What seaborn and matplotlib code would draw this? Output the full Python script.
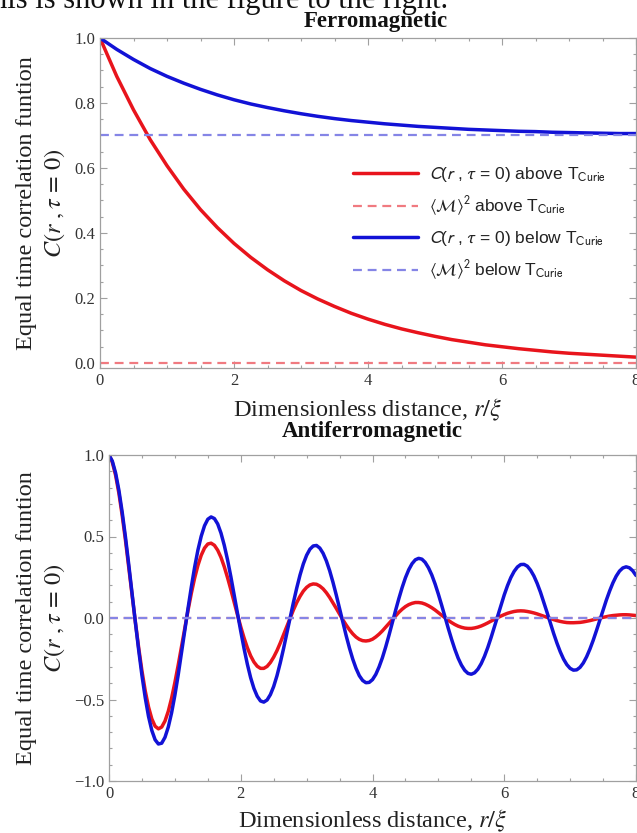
import matplotlib
matplotlib.use("Agg")
import matplotlib.pyplot as plt
import seaborn as sns
import pandas as pd
from matplotlib.ticker import MultipleLocator

# ---------------- data ----------------
r_top = [0, 0.25, 0.5, 0.75, 1, 1.25, 1.5, 1.75, 2, 2.25, 2.5, 2.75, 3, 3.25, 3.5, 3.75,
         4, 4.25, 4.5, 4.75, 5, 5.25, 5.5, 5.75, 6, 6.25, 6.5, 6.75, 7, 7.25, 7.5, 7.75, 8]
ferro_above = [1.000, 0.882, 0.779, 0.687, 0.607, 0.535, 0.472, 0.417, 0.368, 0.325, 0.287,
               0.253, 0.223, 0.197, 0.174, 0.153, 0.135, 0.119, 0.105, 0.093, 0.082, 0.072,
               0.064, 0.056, 0.050, 0.044, 0.039, 0.034, 0.030, 0.027, 0.024, 0.021, 0.018]
ferro_below = [1.000, 0.965, 0.934, 0.906, 0.882, 0.861, 0.842, 0.825, 0.810, 0.797, 0.786,
               0.776, 0.767, 0.759, 0.752, 0.746, 0.741, 0.736, 0.732, 0.728, 0.725, 0.722,
               0.719, 0.717, 0.715, 0.713, 0.712, 0.710, 0.709, 0.708, 0.707, 0.706, 0.706]
ferro_M2_above = 0.0
ferro_M2_below = 0.7

r_bot = [0.0, 0.1, 0.2, 0.3, 0.4, 0.5, 0.6, 0.7, 0.8, 0.9,
         1.0, 1.1, 1.2, 1.3, 1.4, 1.5, 1.6, 1.7, 1.8, 1.9,
         2.0, 2.1, 2.2, 2.3, 2.4, 2.5, 2.6, 2.7, 2.8, 2.9,
         3.0, 3.1, 3.2, 3.3, 3.4, 3.5, 3.6, 3.7, 3.8, 3.9,
         4.0, 4.1, 4.2, 4.3, 4.4, 4.5, 4.6, 4.7, 4.8, 4.9,
         5.0, 5.1, 5.2, 5.3, 5.4, 5.5, 5.6, 5.7, 5.8, 5.9,
         6.0, 6.1, 6.2, 6.3, 6.4, 6.5, 6.6, 6.7, 6.8, 6.9,
         7.0, 7.1, 7.2, 7.3, 7.4, 7.5, 7.6, 7.7, 7.8, 7.9, 8.0]
anti_above = [1.000, 0.876, 0.630, 0.312, -0.024, -0.324, -0.546, -0.664, -0.669, -0.572,
              -0.396, -0.177, 0.048, 0.245, 0.385, 0.454, 0.446, 0.372, 0.247, 0.097,
              -0.054, -0.182, -0.270, -0.309, -0.297, -0.240, -0.153, -0.050, 0.050, 0.133,
              0.188, 0.209, 0.196, 0.155, 0.093, 0.024, -0.043, -0.097, -0.131, -0.141,
              -0.130, -0.099, -0.056, -0.009, 0.035, 0.070, 0.090, 0.095, 0.085, 0.063,
              0.033, 0.002, -0.028, -0.050, -0.062, -0.064, -0.056, -0.040, -0.019, 0.002,
              0.021, 0.035, 0.043, 0.043, 0.036, 0.025, 0.011, -0.003, -0.016, -0.025,
              -0.029, -0.028, -0.024, -0.016, -0.006, 0.004, 0.012, 0.017, 0.020, 0.019,
              0.015]
anti_below = [1.000, 0.890, 0.650, 0.327, -0.025, -0.352, -0.604, -0.747, -0.768, -0.669,
              -0.474, -0.216, 0.060, 0.312, 0.502, 0.606, 0.610, 0.521, 0.356, 0.143,
              -0.081, -0.283, -0.432, -0.509, -0.503, -0.420, -0.275, -0.094, 0.096, 0.264,
              0.385, 0.442, 0.429, 0.350, 0.219, 0.058, -0.108, -0.252, -0.354, -0.397,
              -0.378, -0.300, -0.178, -0.030, 0.119, 0.247, 0.333, 0.366, 0.341, 0.264,
              0.146, 0.007, -0.130, -0.246, -0.321, -0.345, -0.314, -0.235, -0.120, 0.013,
              0.142, 0.248, 0.313, 0.329, 0.293, 0.212, 0.097, -0.031, -0.154, -0.252,
              -0.309, -0.318, -0.276, -0.191, -0.077, 0.049, 0.166, 0.257, 0.307, 0.308,
              0.261]
r_bot_mid = [0.05, 0.15, 0.25, 0.35, 0.45, 0.55, 0.65, 0.75, 0.85, 0.95,
             1.05, 1.15, 1.25, 1.35, 1.45, 1.55, 1.65, 1.75, 1.85, 1.95,
             2.05, 2.15, 2.25, 2.35, 2.45, 2.55, 2.65, 2.75, 2.85, 2.95,
             3.05, 3.15, 3.25, 3.35, 3.45, 3.55, 3.65, 3.75, 3.85, 3.95,
             4.05, 4.15, 4.25, 4.35, 4.45, 4.55, 4.65, 4.75, 4.85, 4.95,
             5.05, 5.15, 5.25, 5.35, 5.45, 5.55, 5.65, 5.75, 5.85, 5.95,
             6.05, 6.15, 6.25, 6.35, 6.45, 6.55, 6.65, 6.75, 6.85, 6.95,
             7.05, 7.15, 7.25, 7.35, 7.45, 7.55, 7.65, 7.75, 7.85, 7.95]
anti_above_mid = [0.956, 0.766, 0.477, 0.143, -0.181, -0.447, -0.619, -0.680, -0.632, -0.492,
                  -0.290, -0.063, 0.152, 0.323, 0.429, 0.459, 0.416, 0.314, 0.174, 0.020,
                  -0.122, -0.232, -0.296, -0.309, -0.273, -0.200, -0.102, 0.001, 0.095, 0.165,
                  0.203, 0.207, 0.179, 0.126, 0.059, -0.011, -0.072, -0.117, -0.139, -0.138,
                  -0.116, -0.079, -0.033, 0.014, 0.054, 0.082, 0.095, 0.092, 0.075, 0.049,
                  0.017, -0.014, -0.040, -0.057, -0.064, -0.061, -0.049, -0.030, -0.009, 0.012,
                  0.029, 0.040, 0.044, 0.040, 0.031, 0.018, 0.004, -0.010, -0.021, -0.028,
                  -0.029, -0.027, -0.020, -0.011, -0.001, 0.008, 0.015, 0.019, 0.020, 0.017]
anti_below_mid = [0.963, 0.784, 0.496, 0.151, -0.195, -0.489, -0.690, -0.773, -0.732, -0.582,
                  -0.350, -0.078, 0.191, 0.417, 0.566, 0.620, 0.577, 0.446, 0.253, 0.030,
                  -0.187, -0.366, -0.480, -0.516, -0.470, -0.354, -0.187, 0.002, 0.184, 0.332,
                  0.422, 0.445, 0.397, 0.290, 0.141, -0.026, -0.184, -0.309, -0.383, -0.395,
                  -0.346, -0.244, -0.106, 0.046, 0.187, 0.296, 0.357, 0.361, 0.308, 0.209,
                  0.078, -0.063, -0.192, -0.289, -0.340, -0.336, -0.280, -0.181, -0.054, 0.079,
                  0.199, 0.286, 0.328, 0.318, 0.258, 0.158, 0.034, -0.095, -0.207, -0.286,
                  -0.320, -0.303, -0.238, -0.137, -0.014, 0.110, 0.216, 0.288, 0.314, 0.290]
anti_M2_above = 0.0
anti_M2_below = 0.0
r_range = [0, 8]

legend_labels = [r'$C$($r$ , $\tau$ = 0) above T$_{\mathrm{Curie}}$',
                 r'$\langle\mathcal{M}\rangle^2$ above T$_{\mathrm{Curie}}$',
                 r'$C$($r$ , $\tau$ = 0) below T$_{\mathrm{Curie}}$',
                 r'$\langle\mathcal{M}\rangle^2$ below T$_{\mathrm{Curie}}$']

# ---------------- style ----------------
sns.set_style("white")
plt.rcParams['font.family'] = ['Liberation Serif', 'DejaVu Serif']
plt.rcParams['mathtext.fontset'] = 'stix'
plt.rcParams['axes.unicode_minus'] = True

RED = '#e8141c'
BLUE = '#1212d6'
RED_D = '#f07a80'
BLUE_D = '#8585e6'
FRAME = '#a0a0a0'
DASH = (0, (4.0, 2.6))

W, H = 637, 833
fig = plt.figure(figsize=(W / 100, H / 100), dpi=100)
ax1 = fig.add_axes([100 / W, 1 - 368 / H, 536 / W, 330 / H])
ax2 = fig.add_axes([109 / W, 1 - 781 / H, 527 / W, 326 / H])

# ---------------- top panel ----------------
df_top = pd.DataFrame({'r': r_top, 'above': ferro_above, 'below': ferro_below})
sns.lineplot(data=df_top, x='r', y='above', ax=ax1, color=RED, lw=2.5, label=legend_labels[0])
sns.lineplot(x=r_range, y=[ferro_M2_above] * 2, ax=ax1, color=RED_D, lw=1.6, linestyle=DASH,
             label=legend_labels[1])
sns.lineplot(data=df_top, x='r', y='below', ax=ax1, color=BLUE, lw=2.5, label=legend_labels[2])
sns.lineplot(x=r_range, y=[ferro_M2_below] * 2, ax=ax1, color=BLUE_D, lw=1.6, linestyle=DASH,
             label=legend_labels[3])
ax1.set_xlim(0, 8)
ax1.set_ylim(-0.0154, 1.0)
ax1.yaxis.set_major_locator(MultipleLocator(0.2))
ax1.yaxis.set_minor_locator(MultipleLocator(0.05))
ax1.yaxis.set_major_formatter(plt.FuncFormatter(lambda v, p: f'{v:.1f}'))

leg = ax1.legend(loc='upper left', bbox_to_anchor=(0.472, 0.615), frameon=False,
                 borderaxespad=0, borderpad=0,
                 handlelength=3.75, handletextpad=0.65, labelspacing=0.62,
                 prop={'family': ['Liberation Sans', 'DejaVu Sans'], 'size': 12.5})
for t in leg.get_texts():
    t.set_math_fontfamily('stixsans')
    t.set_color('#222222')

# ---------------- bottom panel ----------------
df_bot = pd.DataFrame({'r': r_bot + r_bot_mid,
                       'above': anti_above + anti_above_mid,
                       'below': anti_below + anti_below_mid}).sort_values('r')
sns.lineplot(data=df_bot, x='r', y='above', ax=ax2, color=RED, lw=2.5)
sns.lineplot(data=df_bot, x='r', y='below', ax=ax2, color=BLUE, lw=2.5)
sns.lineplot(x=r_range, y=[anti_M2_above] * 2, ax=ax2, color=RED_D, lw=1.6, linestyle=DASH)
sns.lineplot(x=r_range, y=[anti_M2_below] * 2, ax=ax2, color=BLUE_D, lw=1.6, linestyle=DASH)
ax2.set_xlim(0, 8)
ax2.set_ylim(-1.0, 1.0)
ax2.yaxis.set_major_locator(MultipleLocator(0.5))
ax2.yaxis.set_minor_locator(MultipleLocator(0.1))
ax2.yaxis.set_major_formatter(plt.FuncFormatter(lambda v, p: f'{v:.1f}'.replace('-', '\u2212')))

ylab = 'Equal time correlation funtion\n' + r'$C(r\ ,\tau\,=\,0)$'
for ax, ycoord in ((ax1, -0.062), (ax2, -0.080)):
    ax.xaxis.set_major_locator(MultipleLocator(2))
    ax.xaxis.set_minor_locator(MultipleLocator(0.5))
    ax.xaxis.set_major_formatter(plt.FuncFormatter(lambda v, p: f'{v:.0f}'))
    ax.tick_params(which='both', direction='in', top=True, right=True, bottom=True, left=True,
                   labeltop=False, labelright=False, color=FRAME, width=0.8,
                   labelsize=12, labelcolor='#333333')
    ax.tick_params(which='major', length=5, pad=3.5)
    ax.tick_params(which='minor', length=2.5)
    for s in ax.spines.values():
        s.set_visible(True)
        s.set_color(FRAME)
        s.set_linewidth(0.9)
    ax.set_xlabel(r'Dimensionless distance, $r/\xi$', fontsize=17.5, color='#222222')
    ax.set_ylabel(ylab, fontsize=17.5, color='#222222', linespacing=1.3)
    ax.yaxis.set_label_coords(ycoord, 0.5)
    ax.grid(False)

ax1.xaxis.set_label_coords(0.5, -0.127)
ax1.xaxis.label.set_va('center')
ax2.xaxis.set_label_coords(0.5, -0.122)
ax2.xaxis.label.set_va('center')

fig.text(376 / W, 1 - 21 / H, 'Ferromagnetic', ha='center', va='center',
         fontsize=16.5, fontweight='bold', color='#111111')
fig.text(372 / W, 1 - 432 / H, 'Antiferromagnetic', ha='center', va='center',
         fontsize=16.5, fontweight='bold', color='#111111')
fig.text(-0.012, 1 - 8 / H, 'his is shown in the figure to the right.', ha='left',
         va='baseline', fontsize=22, color='#111111')

fig.savefig('out.png', dpi=100)
